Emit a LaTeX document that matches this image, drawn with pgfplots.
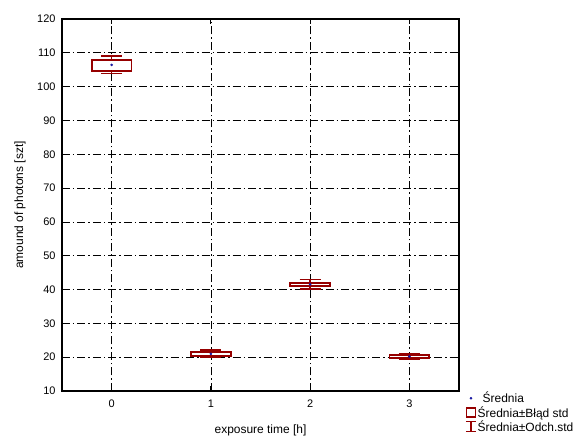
\documentclass[border=0pt]{standalone}
\usepackage{fontspec}
\setmainfont{Liberation Sans}
\usepackage{pgfplots}
\pgfplotsset{compat=1.18}

\definecolor{boxred}{RGB}{150,0,0}
\definecolor{meanblue}{RGB}{20,20,160}

\begin{document}
\begin{tikzpicture}
  \begin{axis}[
    scale only axis,
    width=397bp, height=372bp,
    xmin=-0.5, xmax=3.5,
    ymin=10, ymax=120,
    xtick={0,1,2,3},
    ytick={10,20,...,120},
    tick pos=both,
    tick align=inside,
    major tick length=5bp,
    axis line style={line width=1.6bp},
    every tick/.style={black, line width=0.8bp},
    grid=major,
    major grid style={black, line width=0.7bp, dash pattern=on 8bp off 3bp on 1.5bp off 3bp},
    /pgf/number format/assume math mode=true,
    tick label style={font=\fontsize{11}{13}\selectfont},
    yticklabel style={xshift=-3bp},
    xticklabel style={yshift=-5bp},
    xlabel={exposure time [h]},
    ylabel={amound of photons [szt]},
    every axis x label/.style={at={(axis description cs:0.5,-0.105)}, anchor=center,
      font=\fontsize{12}{14}\selectfont},
    every axis y label/.style={at={(axis description cs:-0.106,0.5)}, anchor=center, rotate=90,
      font=\fontsize{12}{14}\selectfont},
    legend style={at={(axis description cs:1,0)}, anchor=north west, xshift=6bp, yshift=0bp,
      draw=none, fill=none, inner sep=0pt, row sep=0bp,
      font=\fontsize{12}{14}\selectfont,
      nodes={inner sep=1bp}},
    legend cell align=left,
  ]
    \addlegendimage{legend image code/.code={
      \path[draw=none, fill=none] (0bp,-5bp) rectangle (10bp,5bp);
      \fill[meanblue] (5bp,0bp) circle (1.1bp);}}
    \addlegendimage{legend image code/.code={
      \draw[boxred, line width=1.5bp, fill=white] (0.7bp,-4.5bp) rectangle (9.3bp,4.5bp);}}
    \addlegendimage{legend image code/.code={
      \draw[boxred, line width=1.5bp] (5bp,-5bp) -- (5bp,5bp)
        (0bp,-5bp) -- (10bp,-5bp) (0bp,5bp) -- (10bp,5bp);}}
    \legend{\hspace{5bp}Średnia, Średnia±Błąd std, Średnia±Odch.std}

    % whiskers: mean +- std dev
    \addplot[draw=none, mark=none,
      error bars/.cd, y dir=both, y explicit,
      error bar style={boxred, line width=1.5bp},
      error mark=|,
      error mark options={boxred, line width=1.5bp, mark size=10.5bp}]
      coordinates {
        (0,106.4) += (0,2.6) -= (0,2.5)
        (1,21.0)  += (0,1.1) -= (0,1.1)
        (2,41.5)  += (0,1.5) -= (0,1.3)
        (3,20.2)  += (0,0.7) -= (0,0.8)
      };

    % boxes: mean +- std error
    \addplot[boxred, line width=1.6bp, fill=white]
      coordinates {(-0.2,104.7) (0.2,104.7) (0.2,107.8) (-0.2,107.8)} -- cycle;
    \addplot[boxred, line width=1.6bp, fill=white]
      coordinates {(0.8,20.4) (1.2,20.4) (1.2,21.5) (0.8,21.5)} -- cycle;
    \addplot[boxred, line width=1.6bp, fill=white]
      coordinates {(1.8,41.0) (2.2,41.0) (2.2,42.0) (1.8,42.0)} -- cycle;
    \addplot[boxred, line width=1.6bp, fill=white]
      coordinates {(2.8,19.7) (3.2,19.7) (3.2,20.6) (2.8,20.6)} -- cycle;

    % means
    \addplot[only marks, mark=*, mark size=1.1bp, meanblue]
      coordinates {(0,106.4) (1,21.0) (2,41.5) (3,20.2)};
  \end{axis}
  \useasboundingbox ([shift={(-62bp,-46bp)}]current axis.south west)
    rectangle ([shift={(128bp,19bp)}]current axis.north east);
\end{tikzpicture}
\end{document}
